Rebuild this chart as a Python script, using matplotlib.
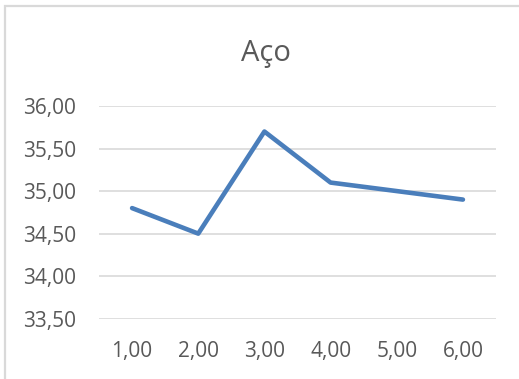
import matplotlib
matplotlib.use("Agg")
import matplotlib.pyplot as plt
from matplotlib.patches import Rectangle
from matplotlib.ticker import FuncFormatter

# Série "Aço"
categorias = ["1,00", "2,00", "3,00", "4,00", "5,00", "6,00"]
valores = [34.80, 34.50, 35.70, 35.10, 35.00, 34.90]
y_ticks = [33.50, 34.00, 34.50, 35.00, 35.50, 36.00]

plt.rcParams['font.family'] = ['Open Sans', 'DejaVu Sans']
cinza_texto = '#595959'
cinza_grade = '#d9d9d9'

fig = plt.figure(figsize=(5.19, 3.79), dpi=100)
ax = fig.add_axes([99 / 519, 1 - 318.7 / 379, (496 - 99) / 519, (318.7 - 106) / 379])

# moldura do gráfico
fig.patches.append(Rectangle((5 / 519, -0.1), 1.2, 1 - 6 / 379 + 0.1,
                             transform=fig.transFigure, fill=False,
                             edgecolor=cinza_grade, linewidth=1.6))

x = range(len(categorias))
ax.plot(x, valores, color='#4a7ebb', linewidth=3.3, solid_capstyle='round',
        solid_joinstyle='round', zorder=3)

ax.set_xlim(-0.5, len(categorias) - 0.5)
ax.set_ylim(y_ticks[0], y_ticks[-1])
ax.set_yticks(y_ticks)
ax.yaxis.set_major_formatter(FuncFormatter(lambda v, p: f"{v:.2f}".replace('.', ',')))
ax.set_xticks(list(x))
ax.set_xticklabels(categorias)

ax.grid(axis='y', color=cinza_grade, linewidth=1.2)
ax.set_axisbelow(True)
for s in ax.spines.values():
    s.set_visible(False)
ax.tick_params(axis='both', length=0, labelsize=15, labelcolor=cinza_texto)
ax.tick_params(axis='y', pad=16.5)
ax.tick_params(axis='x', pad=16)

fig.text(266 / 519, 1 - 61 / 379, "Aço", ha='center', va='baseline',
         fontsize=21, color=cinza_texto)

fig.savefig("out.png", dpi=100)
